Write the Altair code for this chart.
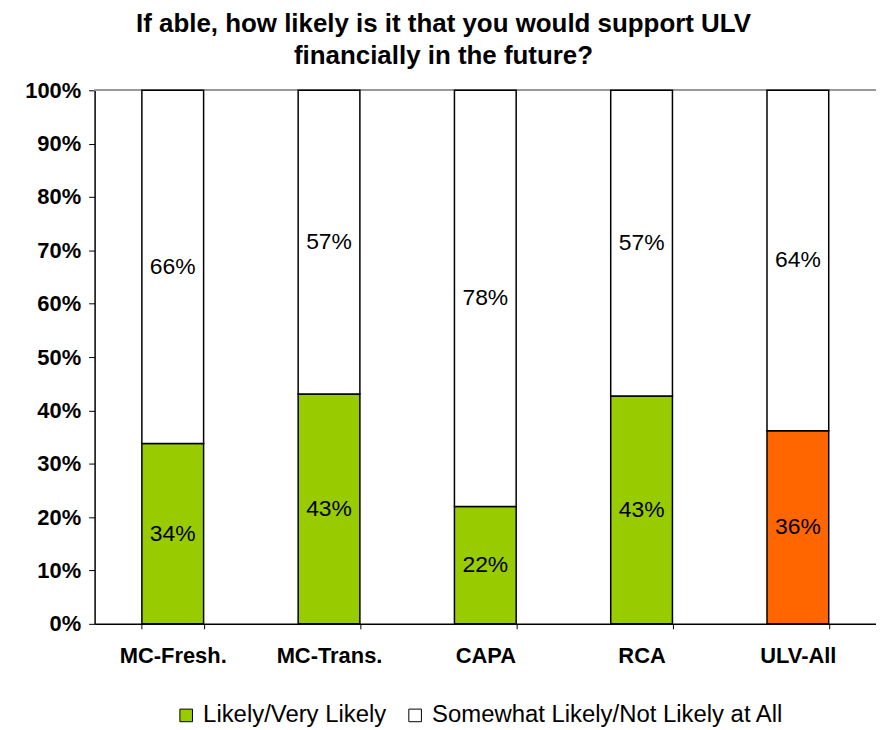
import altair as alt
import pandas as pd

categories = ["MC-Fresh.", "MC-Trans.", "CAPA", "RCA", "ULV-All"]
likely = [33.8, 43.1, 22.0, 42.7, 36.2]
series_names = ["Likely/Very Likely", "Somewhat Likely/Not Likely at All"]
likely_labels = ["34%", "43%", "22%", "43%", "36%"]
other_labels = ["66%", "57%", "78%", "57%", "64%"]

rows = []
for c, v, l1, l2 in zip(categories, likely, likely_labels, other_labels):
    rows.append({"cat": c, "series": series_names[0], "val": v / 100, "ord": 0,
                 "lab": l1, "mid": v / 200})
    rows.append({"cat": c, "series": series_names[1], "val": (100 - v) / 100, "ord": 1,
                 "lab": l2, "mid": (v + (100 - v) / 2) / 100})
df = pd.DataFrame(rows)

FONT = "Liberation Sans"

x_enc = alt.X("cat:N", sort=categories, title=None,
              scale=alt.Scale(paddingInner=0.605, paddingOuter=0.3025),
              axis=alt.Axis(labelAngle=0, labelFont=FONT, labelFontSize=22,
                            labelFontWeight="bold", labelColor="black",
                            labelPadding=17, domainColor="black", domainWidth=1.5,
                            tickColor="black", tickSize=5, tickBand="extent"))

bars = alt.Chart(df).mark_bar(stroke="black", strokeWidth=1.5).encode(
    x=x_enc,
    y=alt.Y("val:Q", stack="zero", title=None,
            scale=alt.Scale(domain=[0, 1]),
            axis=alt.Axis(format="%", values=[i / 10 for i in range(11)],
                          labelFont=FONT, labelFontSize=22, labelFontWeight="bold",
                          labelColor="black", labelPadding=8, grid=False,
                          domainColor="black", domainWidth=1.5,
                          tickColor="black", tickSize=6)),
    order=alt.Order("ord:Q"),
    color=alt.condition(
        "datum.cat === 'ULV-All' && datum.ord === 0",
        alt.value("#FF6600"),
        alt.Color("series:N", sort=series_names,
                  scale=alt.Scale(domain=series_names, range=["#99CC00", "#FFFFFF"]),
                  legend=alt.Legend(title=None, orient="none", direction="horizontal",
                                    legendX=80, legendY=616,
                                    labelFont=FONT, labelFontSize=24, labelColor="black",
                                    labelLimit=600,
                                    symbolType="square", symbolSize=160,
                                    symbolStrokeColor="black", symbolStrokeWidth=1,
                                    columnPadding=16, labelOffset=5)),
    ),
)

top_line = alt.Chart(df).mark_rule(color="#999999", strokeWidth=1.5).encode(
    y=alt.datum(1)
)

labels = alt.Chart(df).mark_text(font=FONT, fontSize=23, color="black").encode(
    x=alt.X("cat:N", sort=categories),
    y=alt.Y("mid:Q"),
    text="lab:N",
)

chart = alt.layer(top_line, bars, labels).properties(
    width=785, height=536,
    autosize=alt.AutoSizeParams(type="none"),
    padding={"left": 87, "top": 81, "right": 0, "bottom": 110},
    title=alt.Title(
        ["If able, how likely is it that you would support ULV",
         "financially in the future?"],
        font=FONT, fontSize=26, fontWeight="bold", color="black",
        anchor="middle", dx=-42, offset=10, lineHeight=33,
    ),
).configure_view(stroke=None)

chart.save("out.html", embed_options={"renderer": "svg", "actions": False})
